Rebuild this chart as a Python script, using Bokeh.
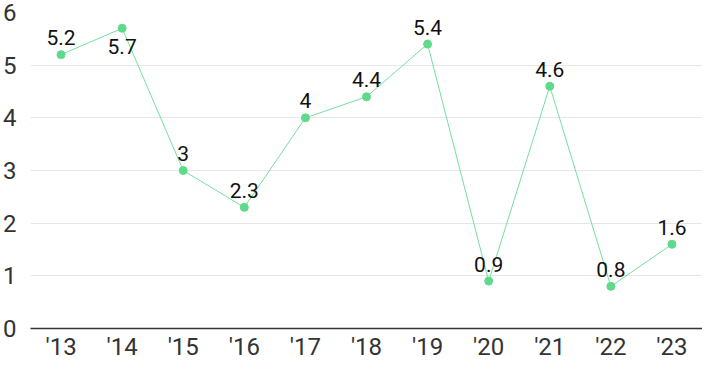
from bokeh.plotting import figure
from bokeh.models import ColumnDataSource, FactorRange, Range1d, FixedTicker
from bokeh.core.properties import value
from bokeh.embed import file_html
from bokeh.resources import INLINE

years = ["'13", "'14", "'15", "'16", "'17", "'18", "'19", "'20", "'21", "'22", "'23"]
values = [5.2, 5.7, 3, 2.3, 4, 4.4, 5.4, 0.9, 4.6, 0.8, 1.6]
labels = ["5.2", "5.7", "3", "2.3", "4", "4.4", "5.4", "0.9", "4.6", "0.8", "1.6"]
y_ticks = [0, 1, 2, 3, 4, 5, 6]

# value labels drawn under their point instead of above it
labels_below = ["'14"]
offsets = [18 if y in labels_below else -17 for y in years]

src = ColumnDataSource(dict(x=years, y=values, label=labels, yoff=offsets))

p = figure(
    x_range=FactorRange(*years, range_padding=0),
    y_range=Range1d(0, 6),
    width=702, height=363,
    output_backend="svg", toolbar_location=None,
    min_border_left=28, min_border_right=0, min_border_top=12, min_border_bottom=0,
)
p.outline_line_color = None
p.background_fill_color = "white"
p.border_fill_color = "white"

p.xgrid.grid_line_color = None
p.ygrid.grid_line_color = "#e6e6e6"
p.ygrid.grid_line_width = 1

p.yaxis.ticker = FixedTicker(ticks=y_ticks)
p.yaxis.axis_line_color = None
p.yaxis.major_tick_line_color = None
p.yaxis.minor_tick_line_color = None
p.yaxis.major_tick_out = 0
p.yaxis.major_tick_in = 0
p.yaxis.major_label_text_font = "Roboto"
p.yaxis.major_label_text_font_size = "24px"
p.yaxis.major_label_text_color = "#333333"
p.yaxis.major_label_text_align = "left"
p.yaxis.major_label_text_line_height = 1.0
p.yaxis.major_label_standoff = 14

p.xaxis.axis_line_color = "#333333"
p.xaxis.axis_line_width = 1.5
p.xaxis.major_tick_line_color = None
p.xaxis.minor_tick_line_color = None
p.xaxis.major_tick_out = 0
p.xaxis.major_tick_in = 0
p.xaxis.major_label_text_font = "Roboto"
p.xaxis.major_label_text_font_size = "24px"
p.xaxis.major_label_text_color = "#333333"
p.xaxis.major_label_text_line_height = 0.9
p.xaxis.major_label_standoff = 4

p.line(x="x", y="y", source=src, line_color="#74df9f", line_width=1)
p.scatter(x="x", y="y", source=src, size=8, fill_color="#5fd98a", line_color="#5fd98a")
p.text(x="x", y="y", text="label", source=src, y_offset="yoff",
       text_align="center", text_baseline="alphabetic",
       text_font=value("Roboto"), text_font_size="21px", text_color="#111111")

open("out.html", "w").write(file_html(p, INLINE))
